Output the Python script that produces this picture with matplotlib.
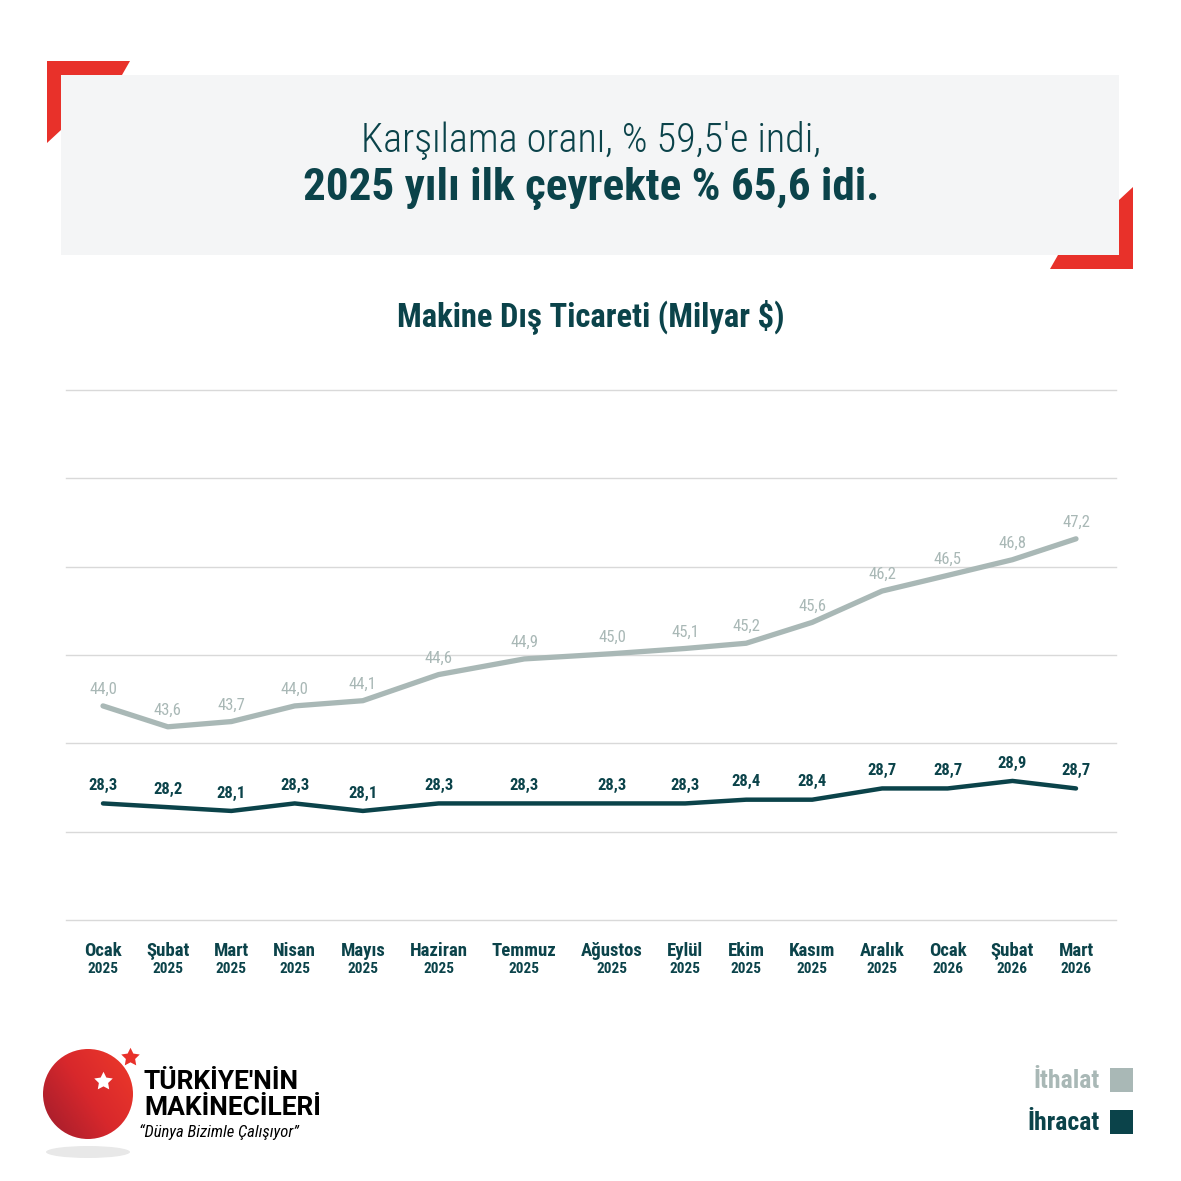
import numpy as np
import matplotlib.pyplot as plt
from matplotlib.patches import Polygon, Rectangle, Circle, Ellipse
from matplotlib.colors import LinearSegmentedColormap
from matplotlib import font_manager

# --- DATA ---
months = ['Ocak', 'Şubat', 'Mart', 'Nisan', 'Mayıs', 'Haziran', 'Temmuz', 'Ağustos',
          'Eylül', 'Ekim', 'Kasım', 'Aralık', 'Ocak', 'Şubat', 'Mart']
years = ['2025'] * 12 + ['2026'] * 3
ithalat = [44.0, 43.6, 43.7, 44.0, 44.1, 44.6, 44.9, 45.0, 45.1, 45.2, 45.6, 46.2, 46.5, 46.8, 47.2]
ihracat = [28.3, 28.2, 28.1, 28.3, 28.1, 28.3, 28.3, 28.3, 28.3, 28.4, 28.4, 28.7, 28.7, 28.9, 28.7]

# --- STYLE ---
DARK = '#0b434a'
GREY = '#a9b8b6'
RED = '#e8312a'
BOX = '#f4f5f6'
GRID = '#d9d9d9'

installed = {f.name for f in font_manager.fontManager.ttflist}
FONT = [f for f in ['Roboto Condensed', 'Open Sans Condensed', 'Liberation Sans Narrow', 'Roboto']
        if f in installed][:1] + ['DejaVu Sans']
WIDE = ['Roboto', 'DejaVu Sans']
plt.rcParams['font.family'] = FONT

W = H = 1181
fig = plt.figure(figsize=(W / 100, H / 100), dpi=100)
fig.patch.set_facecolor('white')


def fx(px):
    return px / W


def fy(py):
    return 1 - py / H


# --- header box and red corners ---
fig.patches.append(Rectangle((fx(61), fy(255)), fx(1119) - fx(61), fy(75) - fy(255),
                             transform=fig.transFigure, facecolor=BOX, edgecolor='none'))
tl = [(47, 61), (130, 61), (122, 75), (61, 75), (61, 130), (47, 143)]
br = [(1133, 269), (1050, 269), (1058, 255), (1119, 255), (1119, 200), (1133, 187)]
for pts in (tl, br):
    fig.patches.append(Polygon([(fx(a), fy(b)) for a, b in pts], closed=True,
                               transform=fig.transFigure, facecolor=RED, edgecolor='none'))

fig.text(fx(591), fy(141), 'Karşılama oranı, % 59,5′e indi,', ha='center', va='center',
         fontsize=29, color=DARK, fontweight='light')
fig.text(fx(591), fy(189), '2025 yılı ilk çeyrekte % 65,6 idi.', ha='center', va='center',
         fontsize=32.5, color=DARK, fontweight='bold')
fig.text(fx(591), fy(317), 'Makine Dış Ticareti (Milyar $)', ha='center', va='center',
         fontsize=23.5, color=DARK, fontweight='bold')

# --- chart ---
ax = fig.add_axes([fx(66), fy(920), fx(1116) - fx(66), fy(390) - fy(920)])

# x positions: month labels packed with equal gaps between them (as in the original layout)
renderer = fig.canvas.get_renderer()
widths = []
for m in months:
    t = fig.text(0, 0, m, fontsize=13.5, fontweight='bold')
    widths.append(t.get_window_extent(renderer).width)
    t.remove()
widths = np.array(widths)
span = 973.0
steps = (widths[:-1] + widths[1:]) / 2
gap = (span - steps.sum()) / len(steps)
x = np.concatenate([[0], np.cumsum(steps + gap)])

ax2 = ax.twinx()
ax3 = ax.twinx()
for a in (ax, ax2, ax3):
    a.set_xlim(-37, 1050 - 37)
    for s in a.spines.values():
        s.set_visible(False)
    a.set_yticks([])
    a.tick_params(axis='x', length=0)
ax.patch.set_visible(False)

ax.set_ylim(0, 6)
for g in range(7):
    ax.axhline(g, color=GRID, lw=1, zorder=0, clip_on=False)

ax2.set_ylim(39.9, 50.05)
ax3.set_ylim(25.19, 39.33)

ax2.plot(x, ithalat, color=GREY, lw=3.8, solid_capstyle='round', solid_joinstyle='round')
ax3.plot(x, ihracat, color=DARK, lw=3.2, solid_capstyle='round', solid_joinstyle='round')

for xi, v in zip(x, ithalat):
    ax2.annotate(f'{v:.1f}'.replace('.', ','), (xi, v), xytext=(0, 6.5), textcoords='offset points',
                 ha='center', va='bottom', fontsize=12, color=GREY)
for xi, v in zip(x, ihracat):
    ax3.annotate(f'{v:.1f}'.replace('.', ','), (xi, v), xytext=(0, 7.5), textcoords='offset points',
                 ha='center', va='bottom', fontsize=12, color=DARK, fontweight='bold')

ax.set_xticks(x)
ax.set_xticklabels([])
for xi, m, yv in zip(x, months, years):
    ax.annotate(m, (xi, 0), xytext=(0, -22.5), textcoords='offset points', ha='center', va='center',
                fontsize=13.5, color=DARK, fontweight='bold', annotation_clip=False)
    ax.annotate(yv, (xi, 0), xytext=(0, -35.5), textcoords='offset points', ha='center', va='center',
                fontsize=11, color=DARK, fontweight='bold', annotation_clip=False)

# --- legend ---
fig.text(fx(1100), fy(1081), 'İthalat', ha='right', va='center', fontsize=18.5, color=GREY,
         fontweight='bold')
fig.text(fx(1100), fy(1123), 'İhracat', ha='right', va='center', fontsize=18.5, color=DARK,
         fontweight='bold')
for yy, c in ((1068, GREY), (1110, DARK)):
    fig.patches.append(Rectangle((fx(1110), fy(yy + 24)), fx(23), fx(24),
                                 transform=fig.transFigure, facecolor=c, edgecolor='none'))

# --- logo ---
lax = fig.add_axes([fx(30), fy(1170), fx(120), fx(130)])
lax.set_xlim(0, 120)
lax.set_ylim(0, 130)
lax.set_aspect('equal')
lax.axis('off')
lax.add_patch(Ellipse((58, 18), 84, 12, facecolor='#e8e8e8', edgecolor='none'))
grad = np.linspace(0, 1, 256)
gx, gy = np.meshgrid(grad, grad)
cmap = LinearSegmentedColormap.from_list('r', ['#9e1c2c', '#d8282c', '#ee3a2a'])
img = lax.imshow(0.6 * gx + 0.4 * gy, cmap=cmap, extent=(13, 103, 31, 121), origin='lower')
img.set_clip_path(Circle((58, 76), 45, transform=lax.transData))
lax.plot(73, 89, marker=(5, 1, 0), ms=14, color='white', mec='none')
lax.plot(100, 113, marker=(5, 1, 0), ms=14, color=RED, mec='none')

fig.text(fx(144), fy(1082), "TÜRKİYE'NİN", ha='left', va='center', fontsize=19,
         fontweight='bold', color='black', family=WIDE)
fig.text(fx(144), fy(1108), 'MAKİNECİLERİ', ha='left', va='center', fontsize=19,
         fontweight='bold', color='black', family=WIDE)
fig.text(fx(139), fy(1132), '“Dünya Bizimle Çalışıyor”', ha='left', va='center', fontsize=12,
         style='italic', color='black')

fig.savefig('out.png', dpi=100, facecolor='white')
